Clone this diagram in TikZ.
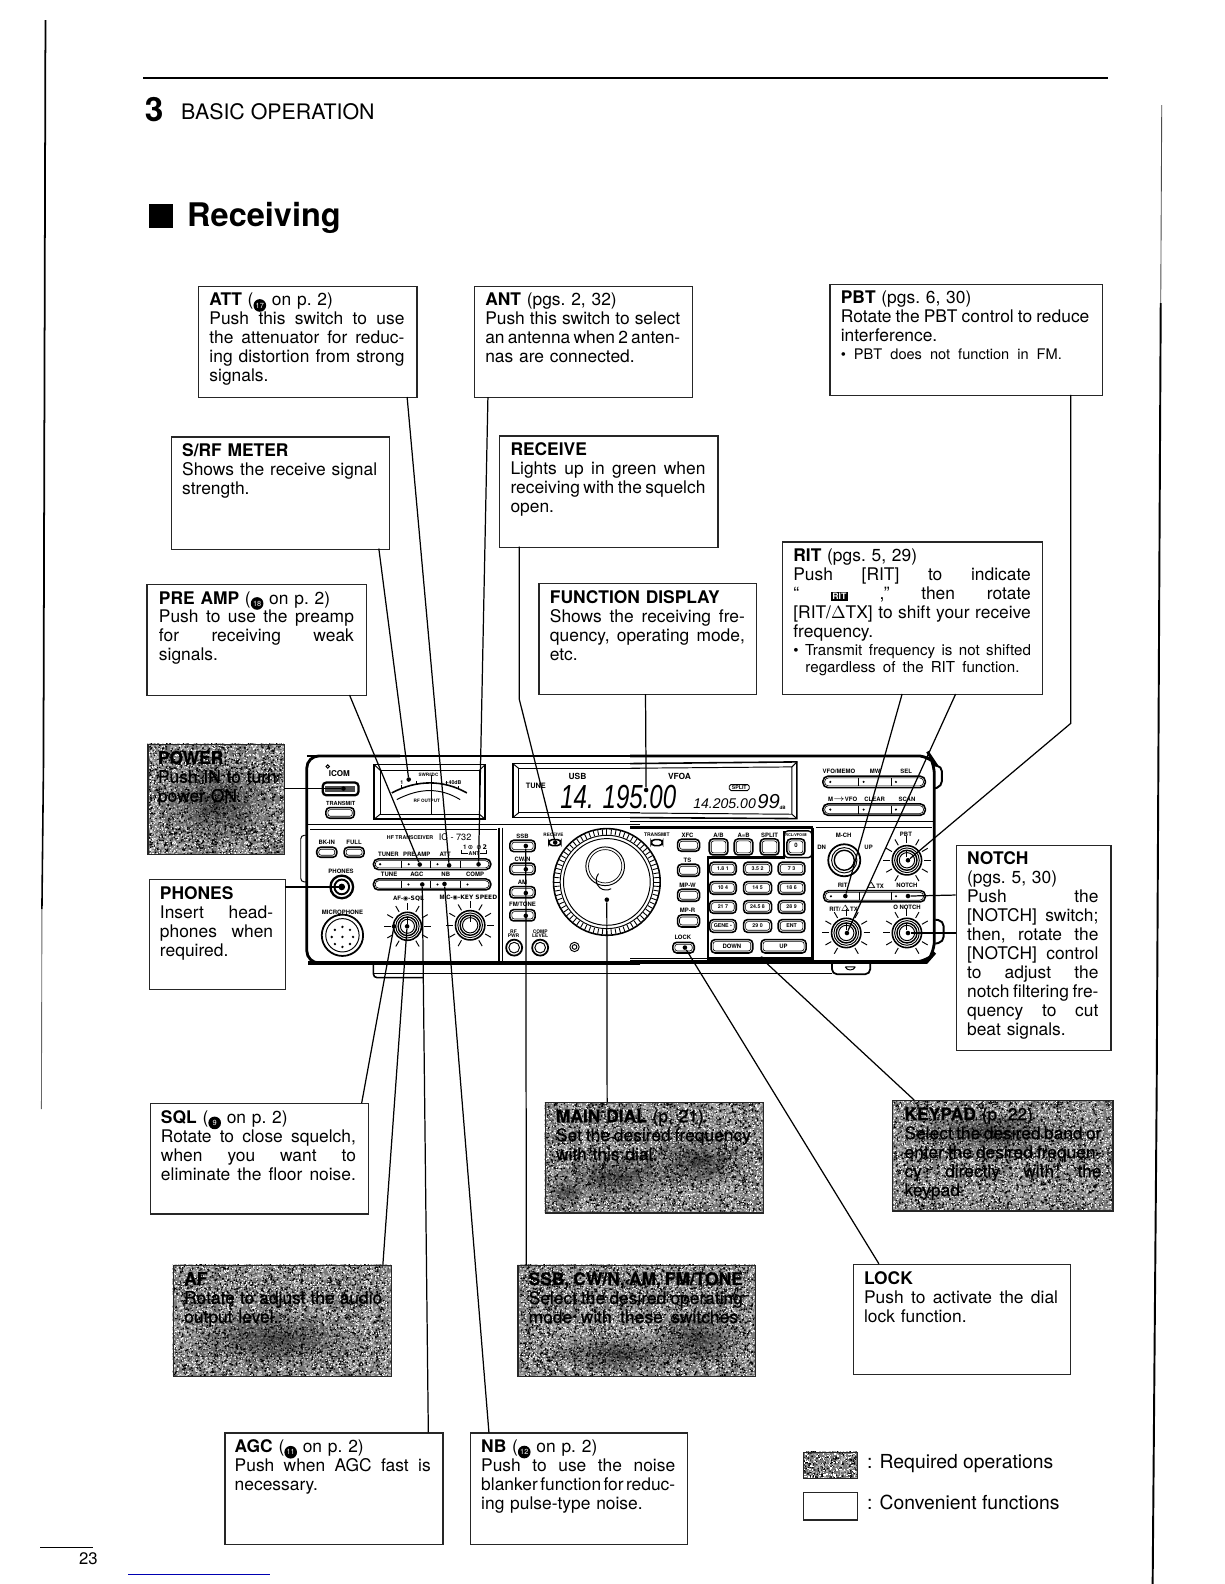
\documentclass[tikz,border=0pt]{standalone}
\usepackage{fontspec}
\usetikzlibrary{patterns,fadings}
\setmainfont{TeX Gyre Heros}
\newfontfamily\djv{DejaVu Sans}
\newfontfamily\lib{Liberation Sans}
\newcommand\spotloop[3]{% tile size, count, dot size (pt)
 \foreach \i in {1,...,#2}{%
  \pgfmathsetmacro\sx{rnd*(#1-#3)}\pgfmathsetmacro\sy{rnd*(#1-#3)}%
  \pgfpathrectangle{\pgfqpoint{\sx pt}{\sy pt}}{\pgfqpoint{#3pt}{#3pt}}\pgfusepath{fill}%
 }}
\pgfdeclarepatternformonly{speckA}{\pgfqpoint{0pt}{0pt}}{\pgfqpoint{37pt}{37pt}}{\pgfqpoint{37pt}{37pt}}{\spotloop{37}{640}{0.8}}
\pgfdeclarepatternformonly{speckB}{\pgfqpoint{0pt}{0pt}}{\pgfqpoint{41pt}{41pt}}{\pgfqpoint{41pt}{41pt}}{\spotloop{41}{560}{0.75}}
\pgfdeclarepatternformonly{speckC}{\pgfqpoint{0pt}{0pt}}{\pgfqpoint{43pt}{43pt}}{\pgfqpoint{43pt}{43pt}}{\spotloop{43}{700}{0.8}}
\tikzfading[name=blotf,inner color=transparent!0,outer color=transparent!100]
\newcommand\itsetup{\fontsize{9.9}{10.8}\selectfont\frenchspacing\spaceskip 0.24em plus 0.1em minus 0.05em\relax}
\tikzset{
 frame/.style={draw=black!85,line width=0.75pt,rectangle,inner sep=0pt},
 itext/.style={inner sep=0pt,anchor=north west,align=left,font=\itsetup},
 conn/.style={draw=black,line width=0.7pt},
 dot/.style={circle,fill=black,inner sep=0pt,minimum size=2.6pt},
 rad/.style={draw=black,line width=0.55pt},
 radthick/.style={draw=black,line width=1.6pt},
 lab/.style={inner sep=0pt,font=\fontsize{3.4}{4}\bfseries\selectfont},
 z1/.style={shift={(287.16,732.75)},scale=0.33006},
 z2/.style={shift={(623.83,732.75)},scale=0.33006},
}
\newcount\lc
\newcommand\lb[3]{\global\advance\lc by 1 \node[lab] (l\the\lc) at (#1,#2) {#3};}
\newcommand\J[1]{{\spaceskip=0.05em plus 1fil\relax\makebox[\tw cm][s]{#1}}\\}
\newcommand\W[2]{{\spaceskip=0.05em plus 1fil\relax\makebox[#1cm][s]{#2}}}
\newcommand\cn[1]{\raisebox{-0.4pt}{\tikz[baseline=-3.4pt]\node[circle,fill=black,text=white,inner sep=0pt,minimum size=7.2pt,font=\fontsize{4.2}{4.2}\selectfont] (cn#1) {#1};}}
\newcommand\hv{\addfontfeature{FakeBold=0.9}}
% ibox: name x1 y1 x2 y2 textx textwidth text
\newcommand\ibox[8]{%
 \pgfmathsetmacro\bw{(#4-#2)*0.0202}\pgfmathsetmacro\bh{(#5-#3)*0.0202}\pgfmathsetmacro\tw{#7*0.0202}%
 \node[frame,minimum width=\bw cm,minimum height=\bh cm,anchor=north west] (#1) at (#2,#3) {};
 \node[itext,text width=\tw cm] (#1t) at (#6,{#3+7}) {#8};
}
\newcommand\speck[4]{%
 \fill[black!52] (#1,#2) rectangle (#3,#4);
 \fill[pattern=speckA,pattern color=black] (#1,#2) rectangle (#3,#4);
 \fill[pattern=speckB,pattern color=white] (#1,#2) rectangle (#3,#4);
 \fill[pattern=speckC,pattern color=black!30] (#1,#2) rectangle (#3,#4);
}
\newcommand\blot[4]{\fill[black,fill opacity=0.55,path fading=blotf] (#1,#2) ellipse [x radius=#3,y radius=#4];}
\newcommand\pill[4]{% cx cy w h
 \draw[rad,line width=0.9pt,rounded corners=2.2pt] ({#1-#3/2},{#2-#4/2}) rectangle ({#1+#3/2},{#2+#4/2});
 \draw[rad,line width=0.35pt,rounded corners=1.4pt] ({#1-#3/2+6},{#2-#4/2+6}) rectangle ({#1+#3/2-6},{#2+#4/2-6});
}
\newcommand\swbar[9]{% x1 y1 x2 y2 s1 s2 d1 d2 d3
 \draw[rad,line width=0.9pt,rounded corners=2.8pt] (#1,#2) rectangle (#3,#4);
 \draw[rad,line width=0.35pt,rounded corners=2.2pt] ({#1+5},{#2+5}) rectangle ({#3-5},{#4-5});
 \draw[rad] (#5,{#2+5}) -- (#5,{#4-5}) (#6,{#2+5}) -- (#6,{#4-5});
 \fill (#7,{(#2+#4)/2}) circle (3.5) (#8,{(#2+#4)/2}) circle (3.5) (#9,{(#2+#4)/2}) circle (3.5);
}
\newcommand\knob[3]{% cx cy r
 \foreach \a in {-60,-30,...,240} \draw[rad] ({#1+(#3+8)*cos(\a)},{#2-(#3+8)*sin(\a)}) -- ({#1+(#3+28)*cos(\a)},{#2-(#3+28)*sin(\a)});
 \draw[rad,line width=0.9pt] (#1,#2) circle (#3);
 \draw[rad] (#1,#2) circle ({#3-7});
 \draw[rad,line width=0.8pt] (#1,#2) circle ({#3-14});
 \draw[rad] (#1,#2) circle ({#3-21});
 \draw[rad] (#1,{#2-#3+14}) -- (#1,{#2-#3+34});
}
\begin{document}
\begin{tikzpicture}[x=0.0202cm,y=-0.0202cm]
\useasboundingbox (0,0) rectangle (1212,1568);
\pgfmathsetseed{73}
% page rules
\draw[black,line width=1pt] (45,20) -- (43,760);
\draw[black,line width=0.9pt] (43,760) -- (41.5,900);
\draw[black!60,line width=0.5pt] (41.5,900) -- (41,1098);
\draw[black!70,line width=0.5pt] (1150,104) -- (1149,300);
\draw[black,line width=1.1pt] (1149,300) -- (1145,1080) -- (1141,1568);
\draw[black,line width=1.4pt] (142,77) -- (1097,77);
\node[inner sep=0pt,anchor=base west,font=\fontsize{19}{20}\bfseries\selectfont] (chap) at (143,120) {3};
\node[inner sep=0pt,anchor=base west,font=\fontsize{12.15}{14}\selectfont] (chapt) at (179,118) {BASIC OPERATION};
\fill[black] (147,202) rectangle (171,226);
\node[inner sep=0pt,anchor=base west,font=\fontsize{18.5}{22}\bfseries\selectfont] (recv) at (185,224) {Receiving};
\draw[black,line width=0.6pt] (40,1532) -- (92,1532);
\node[inner sep=0pt,anchor=base east,font=\fontsize{9.5}{10}\selectfont] (pg) at (97,1549) {23};
\draw[blue!70!black,line width=0.6pt] (127,1559) -- (267,1559);

% ---------- radio, left half
\begin{scope}[z1]
 \draw[radthick,rounded corners=7pt] (330,47) -- (50,47) -- (50,668) -- (1050,668);
 \draw[black,line width=2.2pt] (55,668) -- (1050,668);
 \draw[rad] (50,252) -- (1050,252);
 \draw[rad] (250,700) -- (1050,700);
 \draw[rad,line width=0.9pt,rounded corners=2pt] (250,670) -- (250,712) -- (400,712);
 \draw[rad,rounded corners=2pt] (50,285) -- (32,285) -- (32,425) -- (50,425);
 \draw[rad,line width=0.9pt] (50,47) -- (1050,47);
 \draw[rad,line width=0.8pt] (627,262) -- (627,665);
 \draw[rad] (637,262) -- (637,665);
 \draw[rad] (60,268) -- (620,268);
 % power, transmit
 \lb{148}{100}{\fontsize{4.6}{5}\selectfont ICOM}
 \draw[rad] (113,79) circle (5);
 \draw[rad,line width=1.3pt,rounded corners=2pt] (98,127) rectangle (205,165);
 \fill[black!70] (106,137) rectangle (195,155);
 \pill{150}{218}{85}{32}
 \lb{152}{189}{\fontsize{3.2}{4}\selectfont TRANSMIT}
 % meter
 \draw[rad,line width=0.9pt] (252,73) rectangle (585,237);
 \draw[rad] (270,90) rectangle (568,222);
 \draw[rad] (252,73) -- (270,90) (585,73) -- (568,90) (252,237) -- (270,222) (585,237) -- (568,222);
 \draw[rad,line width=0.9pt] (305,158) .. controls (380,118) and (460,118) .. (530,158);
 \draw[rad] (320,178) .. controls (390,142) and (450,142) .. (510,178);
 \draw[rad] (425,222) -- (425,105);
 \foreach \x/\y in {335/135,380/122,425/115,470/122,505/137} \draw[rad] (\x,\y) -- (\x,{\y+8});
 \lb{415}{103}{\fontsize{2.6}{3}\selectfont SWR/IDC}
 \lb{410}{182}{\fontsize{2.6}{3}\selectfont RF OUTPUT}
 \lb{335}{128}{\fontsize{3}{3}\selectfont 1}
 \lb{490}{127}{\fontsize{3}{3}\selectfont +40dB}
 % function display left
 \draw[rad,line width=0.9pt] (1050,70) -- (668,70) -- (668,232) -- (1050,232);
 \draw[rad] (1050,84) -- (685,84) -- (685,218) -- (1050,218);
 \draw[rad] (668,70) -- (685,84) (668,232) -- (685,218);
 \lb{862}{108}{\fontsize{4.8}{5}\selectfont USB}
 \lb{737}{137}{\fontsize{4.2}{5}\selectfont TUNE}
 % left panel
 \lb{110}{306}{BK-IN}\lb{192}{306}{FULL}
 \pill{110}{336}{60}{30}\pill{192}{336}{60}{30}
 \lb{153}{393}{PHONES}
 \draw[rad,line width=1.3pt] (155,440) circle (34);
 \draw[rad,line width=1.1pt] (155,440) circle (22);
 \fill (155,440) circle (10);
 \lb{157}{516}{MICROPHONE}
 \draw[rad,line width=1pt] (157,585) circle (62);
 \draw[rad] (157,585) circle (50);
 \foreach \a in {0,45,...,315} \fill ({157+32*cos(\a)},{590+30*sin(\a)}) circle (4);
 \fill (157,590) circle (4);
 \lb{360}{292}{\fontsize{3.0}{4}\selectfont HF TRANSCEIVER}
 \lb{495}{290}{\mdseries\fontsize{5.2}{6}\selectfont IC - 732}
 \lb{295}{342}{TUNER}\lb{380}{342}{PRE AMP}\lb{465}{342}{ATT}
 \lb{555}{322}{\fontsize{3.6}{4}\selectfont 1\,\djv ⊙\, ⊙\,2}
 \lb{552}{340}{\fontsize{3}{4}\selectfont ANT}
 \draw[rad] (515,330) -- (515,340) -- (533,340) (571,340) -- (590,340) -- (590,330);
 \swbar{250}{356}{602}{388}{335}{422}{270}{356}{442}
 \draw[rad] (510,361) -- (510,383);
 \lb{297}{403}{TUNE}\lb{380}{403}{AGC}\lb{467}{403}{NB}\lb{555}{403}{COMP}
 \swbar{250}{416}{602}{449}{335}{422}{355}{442}{532}
 \draw[rad] (512,421) -- (512,444);
 \lb{355}{475}{AF-\djv ◉-SQL}
 \lb{535}{472}{MIC-\djv ◉-KEY SPEED}
 \knob{352}{558}{42}
 \knob{540}{555}{44}
 % main dial
 \draw[rad,line width=0.9pt] (950,425) circle (160);
 \draw[rad] (950,425) circle (140);
 \draw[rad] (950,425) circle (130);
 \foreach \a in {0,5,...,355} \draw[rad,line width=0.5pt] ({950+142*cos(\a)},{425+142*sin(\a)}) -- ({950+158*cos(\a)},{425+158*sin(\a)});
 \draw[rad] (945,378) circle (58);
 \draw[rad,line width=0.4pt] (945,378) circle (50);
 \draw[rad] (925,400) arc (220:60:30);
 % mode section
 \lb{697}{287}{SSB}\lb{790}{285}{\fontsize{2.6}{3}\selectfont RECEIVE}
 \lb{697}{356}{CW/N}\lb{697}{426}{AM}\lb{697}{493}{FM/TONE}
 \pill{697}{317}{76}{34}\pill{697}{386}{76}{34}\pill{697}{456}{76}{34}\pill{697}{525}{76}{34}
 \draw[rad,line width=0.9pt,rounded corners=2pt] (776,298) rectangle (812,316);
 \lb{670}{573}{\fontsize{2.8}{4}\selectfont RF}\lb{670}{586}{\fontsize{2.8}{4}\selectfont PWR}
 \lb{750}{573}{\fontsize{2.8}{4}\selectfont COMP}\lb{750}{586}{\fontsize{2.8}{4}\selectfont LEVEL}
 \draw[rad,line width=1pt] (672,622) circle (24);\draw[rad] (672,622) circle (16);
 \draw[rad,line width=1pt] (750,622) circle (24);\draw[rad] (750,622) circle (16);
 \draw[rad] (853,620) circle (14);\draw[rad] (853,620) circle (7);
\end{scope}
% ---------- radio, right half
\begin{scope}[z2]
 \draw[rad,line width=1.6pt,rounded corners=7pt] (0,47) -- (900,47) -- (912,65) -- (912,640) -- (890,665) -- (0,665);
 \draw[black,line width=2.2pt] (0,665) -- (890,665);
 \draw[rad] (0,245) -- (912,245);
 \draw[rad] (0,700) -- (605,700);
 \draw[rad,line width=1.1pt,rounded corners=3pt] (912,75) -- (935,78) -- (935,138) -- (912,145);
 \draw[rad,line width=1.1pt,rounded corners=3pt] (915,538) -- (940,542) -- (940,605) -- (915,610);
 \draw[rad,line width=1pt,rounded corners=3pt] (605,668) -- (605,702) -- (720,702) -- (720,668);
 \draw[rad] (645,680) -- (675,680) (645,680) .. controls (650,692) and (670,692) .. (675,680);
 % display
 \draw[rad,line width=0.9pt] (0,70) -- (500,65) -- (500,235) -- (0,232);
 \draw[rad] (0,84) -- (485,80) -- (485,222) -- (0,218);
 \draw[rad] (500,65) -- (485,80) (500,235) -- (485,222);
 \lb{148}{108}{\fontsize{4.8}{5}\selectfont VFOA}
 \draw[rad,line width=0.5pt,rounded corners=1pt] (297,133) rectangle (357,151);
 \lb{327}{142}{\fontsize{3}{4}\selectfont SPLIT}
 \lb{283}{190}{\lib\mdseries\itshape\fontsize{8}{8}\selectfont 14.205.00}
 \lb{415}{185}{\lib\mdseries\itshape\fontsize{11.5}{12}\selectfont 99}
 \lb{457}{202}{\fontsize{2.6}{3}\selectfont dB}
 % right bars
 \lb{626}{93}{VFO/MEMO}\lb{735}{93}{MW}\lb{828}{93}{SEL}
 \swbar{578}{108}{885}{142}{685}{785}{600}{700}{797}
 \lb{637}{176}{M$\rightarrow$VFO}\lb{733}{176}{CLEAR}\lb{830}{176}{SCAN}
 \swbar{578}{191}{885}{225}{685}{785}{600}{700}{797}
 \lb{637}{436}{RIT}\lb{735}{436}{$\Delta$TX}\lb{830}{436}{NOTCH}
 \swbar{580}{451}{885}{485}{688}{785}{602}{646}{797}
 % section frames
 \draw[rad,line width=1.3pt] (462,272) -- (462,352) -- (233,352) -- (233,655) -- (545,655) -- (545,262) -- (0,262);
 \draw[rad] (550,262) -- (550,660);
 \draw[rad] (556,262) -- (905,262);
 \draw[rad] (0,655) -- (230,655);
 % small controls
 \lb{80}{284}{\fontsize{2.8}{3}\selectfont TRANSMIT}
 \draw[rad,line width=0.9pt,rounded corners=2pt] (63,298) rectangle (97,316);
 \lb{172}{284}{XFC}\lb{172}{360}{TS}\lb{172}{435}{MP-W}\lb{172}{510}{MP-R}\lb{158}{590}{LOCK}
 \pill{175}{315}{66}{36}\pill{175}{390}{66}{36}\pill{175}{465}{66}{36}\pill{175}{542}{66}{36}\pill{160}{622}{64}{32}
 \lb{265}{284}{A/B}\lb{340}{284}{A=B}\lb{418}{284}{SPLIT}
 \draw[rad,line width=0.8pt,rounded corners=2pt] (462,272) rectangle (545,352);
 \lb{497}{284}{\fontsize{2.2}{3}\selectfont RCL/VFO/M}
 \pill{265}{320}{56}{48}\pill{340}{320}{56}{48}\pill{418}{320}{56}{48}\pill{497}{320}{54}{48}
 \lb{497}{314}{0}
 \foreach \y/\a/\b/\c in {385/1.8  1/3.5  2/7  3,443/10  4/14  5/18  6,500/21  7/24.5  8/28  9,557/GENE  •/29  0/ENT}{
  \pill{278}{\y}{80}{38}\pill{382}{\y}{84}{38}\pill{484}{\y}{80}{38}
  \global\advance\lc by 1 \node[lab,font=\fontsize{3}{4}\bfseries\selectfont] (k\the\lc a) at (278,\y) {\a};
  \node[lab,font=\fontsize{3}{4}\bfseries\selectfont] (k\the\lc b) at (382,\y) {\b};
  \node[lab,font=\fontsize{3}{4}\bfseries\selectfont] (k\the\lc c) at (484,\y) {\c};
 }
 \pill{305}{618}{125}{40}\pill{460}{618}{135}{40}
 \lb{305}{618}{DOWN}\lb{460}{618}{UP}
 % knobs
 \lb{640}{285}{M-CH}\lb{574}{322}{DN}\lb{715}{322}{UP}\lb{827}{283}{PBT}
 \lb{640}{505}{RIT/$\Delta$TX}\lb{830}{501}{O NOTCH}
 \draw[rad,line width=1pt] (642,360) circle (48);
 \draw[rad] (642,360) circle (38);
 \draw[rad,line width=0.8pt] (642,360) circle (30);
 \knob{830}{360}{44}
 \knob{648}{578}{44}
 \knob{830}{578}{44}
\end{scope}
\node[inner sep=0pt,font=\lib\itshape\fontsize{19}{20}\selectfont] (freq) at (612,789) {\scalebox{0.72}[1]{14. 195.00}};

% ---------- boxes
\ibox{att}{196}{283}{412}{393}{207}{193}{\textbf{ATT} (\cn{17} on p. 2)\\\J{Push this switch to use}\J{the attenuator for reduc-}\J{ing distortion from strong}signals.}
\ibox{ant}{469}{283}{685}{393}{480}{193}{\textbf{ANT} (pgs. 2, 32)\\\J{Push this switch to select}\J{an antenna when 2 anten-}nas are connected.}
\ibox{pbt}{821}{281}{1091}{391}{832}{246}{\textbf{PBT} (pgs. 6, 30)\\\J{Rotate the PBT control to reduce}interference.\\{\fontsize{8.3}{10.2}\selectfont\W{4.42}{• PBT does not function in FM.}\par}}
\ibox{srf}{169}{432}{385}{543}{180}{193}{\textbf{S/RF METER}\\\J{Shows the receive signal}strength.}
\ibox{rcv}{494}{431}{710}{541}{505}{193}{\textbf{RECEIVE}\\\J{Lights up in green when}\J{receiving with the squelch}open.}
\ibox{rit}{774}{536}{1031}{687}{785}{235}{\textbf{RIT} (pgs. 5, 29)\\\J{Push [RIT] to indicate}\J{“\ {\setlength\fboxsep{0.8pt}\colorbox{black}{\textcolor{white}{\fontsize{5}{5}\bfseries\selectfont RIT}}}\ ,” then rotate}\J{[RIT/$\Delta$TX] to shift your receive}frequency.\\[1pt]{\fontsize{8.6}{9.4}\selectfont \W{4.75}{• Transmit frequency is not shifted}\\\hspace*{0.8em}\W{4.28}{regardless of the RIT function.}\par}}
\ibox{pre}{145}{578}{362}{688}{157}{193}{\textbf{PRE AMP} (\cn{18} on p. 2)\\\J{Push to use the preamp}\J{for receiving weak}signals.}
\ibox{fun}{533}{577}{748}{687}{544}{193}{\textbf{FUNCTION DISPLAY}\\\J{Shows the receiving fre-}\J{quency, operating mode,}etc.}
\ibox{pho}{147}{870}{282}{979}{158}{112}{\textbf{PHONES}\\\J{Insert head-}\J{phones when}required.}
\ibox{not}{946}{836}{1099}{1039}{957}{130}{\textbf{NOTCH}\\(pgs. 5, 30)\\\J{Push the}\J{[NOTCH] switch;}\J{then, rotate the}\J{[NOTCH] control}\J{to adjust the}\J{notch filtering fre-}\J{quency to cut}beat signals.}
\ibox{sql}{148}{1092}{364}{1201}{159}{193}{\textbf{SQL} (\cn{9} on p. 2)\\\J{Rotate to close squelch,}\J{when you want to}\J{eliminate the floor noise.}}
\ibox{lock}{844}{1251}{1059}{1360}{855}{192}{\textbf{LOCK}\\\J{Push to activate the dial}lock function.}
\ibox{agc}{222}{1418}{438}{1528}{232}{194}{\textbf{AGC} (\cn{11} on p. 2)\\\J{Push when AGC fast is}necessary.}
\ibox{nb}{465}{1418}{680}{1528}{476}{192}{\textbf{NB} (\cn{12} on p. 2)\\\J{Push to use the noise}\J{blanker function for reduc-}ing pulse-type noise.}
% speckled boxes
\speck{146}{736}{281}{845}
\speck{539}{1091}{755}{1200}
\speck{883}{1089}{1101}{1198}
\speck{171}{1252}{387}{1362}
\speck{512}{1252}{747}{1362}
\speck{795}{1437}{848}{1463}
\blot{215}{795}{60}{45}
\blot{610}{1165}{60}{25}
\blot{690}{1150}{55}{28}
\blot{560}{1180}{20}{15}
\blot{980}{1120}{80}{22}
\blot{270}{1325}{90}{30}
\blot{610}{1340}{70}{20}
\blot{690}{1325}{50}{30}
\ibox{pow}{146}{736}{281}{845}{156}{118}{\hv\textbf{POWER}\\Push IN to turn\\power ON.}
\ibox{mai}{539}{1091}{755}{1200}{550}{193}{\hv\textbf{MAIN DIAL} (p. 21)\\\J{Set the desired frequency}with this dial.}
\ibox{key}{883}{1089}{1101}{1198}{895}{195}{\hv\textbf{KEYPAD} (p. 22)\\\J{Select the desired band or}\J{enter the desired frequen-}\J{cy directly with the}keypad.}
\ibox{af}{171}{1252}{387}{1362}{182}{196}{\hv\textbf{AF}\\\J{Rotate to adjust the audio}output level.}
\ibox{ssb}{512}{1252}{747}{1362}{523}{212}{\hv\J{\textbf{SSB, CW/N, AM, FM/TONE}}\J{Select the desired operating}\J{mode with these switches.}}
% legend
\node[frame,minimum width=1.0706cm,minimum height=0.5252cm,anchor=north west] (legA) at (795,1437) {};
\node[frame,minimum width=1.0706cm,minimum height=0.5454cm,anchor=north west] (legB) at (795,1477) {};
\node[inner sep=0pt,anchor=base west,font=\fontsize{11}{12}\selectfont] (legAt) at (858,1454) {: Required operations};
\node[inner sep=0pt,anchor=base west,font=\fontsize{11}{12}\selectfont] (legBt) at (858,1494) {: Convenient functions};

% ---------- connector targets
\node[dot] (dAtt) at (444.6,856.6) {};
\node[dot] (dNb) at (440,875) {};
\node[dot] (dSrf) at (404.6,771.6) {};
\node[dot] (dPre) at (415.5,855.8) {};
\node[dot] (dAnt) at (473.7,855.6) {};
\node[dot] (dRcv) at (549.6,834) {};
\node[dot] (dFun) at (639.6,782) {};
\node[dot] (dRit) at (836.8,887) {};
\node[dot] (dRitK) at (838.4,923.6) {};
\node[dot] (dPbt) at (898.8,851.6) {};
\node[dot] (dNot) at (898.8,887) {};
\node[dot] (dNotK) at (898.8,923.6) {};
\node[dot] (dPow) at (340,780.6) {};
\node[dot] (dPho) at (338.3,878) {};
\node[dot] (dSql) at (390,917) {};
\node[dot] (dAf) at (403,917) {};
\node[dot] (dAgc) at (418,875.5) {};
\node[dot] (dSsb) at (520.5,837.4) {};
\node[dot] (dCw) at (520.5,860.5) {};
\node[dot] (dAm) at (520.5,884) {};
\node[dot] (dFm) at (520.5,906.5) {};
\node[dot] (dMai) at (600.7,890.6) {};
\node[dot] (dKey) at (754,949) {};
\node[dot] (dLoc) at (678,938) {};
% box edge anchors
\coordinate (eAtt) at (403,393);
\coordinate (eAnt) at (483,393);
\coordinate (eSrf) at (375,543);
\coordinate (ePre) at (346,688);
\coordinate (eRcv) at (514,541);
\coordinate (bRcv) at (514,692);
\coordinate (eFun) at (639,687);
\coordinate (eRit) at (893,687);
\coordinate (eRitK) at (946,687);
\coordinate (ePbt) at (1060,391);
\coordinate (bPbt) at (1060,716);
\coordinate (eNot) at (946,886);
\coordinate (eNotK) at (946,923.6);
\coordinate (ePow) at (281,780.6);
\coordinate (ePho) at (282,878);
\coordinate (eSql) at (358,1092);
\coordinate (eAf) at (379,1252);
\coordinate (eAgc) at (424,1418);
\coordinate (eNb) at (484,1418);
\coordinate (eSsb) at (521,1252);
\coordinate (eMai) at (601,1091);
\coordinate (eKey) at (905,1089);
\coordinate (eLoc) at (870,1251);
% connectors
\draw[conn] (eAtt) -- (dAtt);
\draw[conn] (eAnt) -- (dAnt);
\draw[conn] (eSrf) -- (dSrf);
\draw[conn] (ePre) -- (dPre);
\draw[conn] (eRcv) -- (bRcv) -- (dRcv);
\draw[conn] (eFun) -- (dFun);
\draw[conn] (eRit) -- (dRit);
\draw[conn] (eRitK) -- (dRitK);
\draw[conn] (ePbt) -- (bPbt) -- (dPbt);
\draw[conn] (eNot) -- (dNot);
\draw[conn] (eNotK) -- (dNotK);
\draw[conn] (ePow) -- (dPow);
\draw[conn] (ePho) -- (dPho);
\draw[conn] (eSql) -- (dSql);
\draw[conn] (eAf) -- (dAf);
\draw[conn] (eAgc) -- (dAgc);
\draw[conn] (eNb) -- (dNb);
\draw[conn] (eSsb) -- (dSsb);
\draw[conn] (eMai) -- (dMai);
\draw[conn] (eKey) -- (dKey);
\draw[conn] (eLoc) -- (dLoc);
\end{tikzpicture}
\end{document}
